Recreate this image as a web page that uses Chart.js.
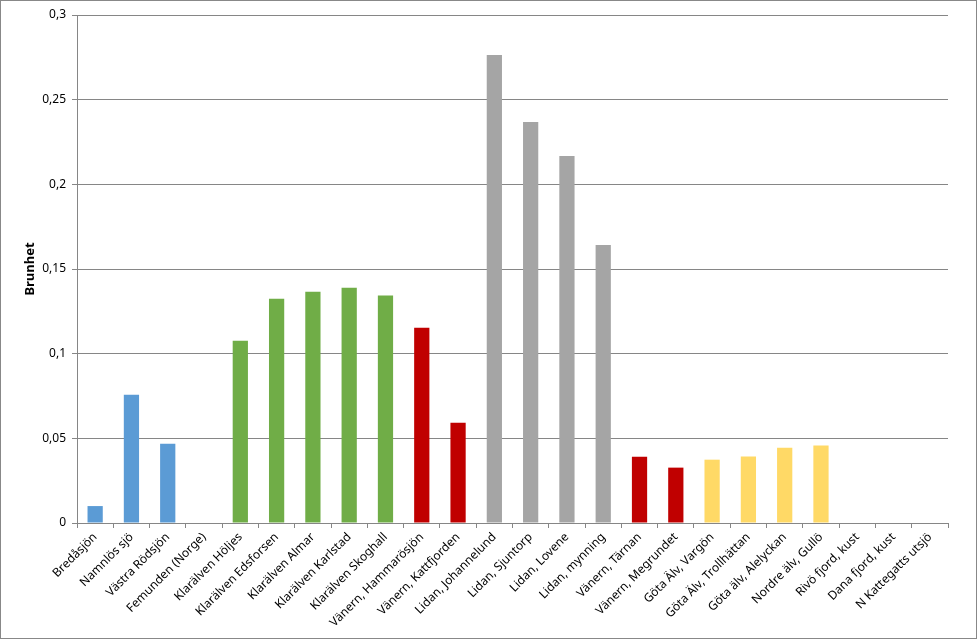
<!DOCTYPE html>
<html>
<head>
<meta charset="utf-8">
<script src="https://cdn.jsdelivr.net/npm/chart.js@4/dist/chart.umd.min.js"></script>
<style>
  body { margin: 0; background: #fff; }
  #wrap { width: 977px; height: 639px; box-sizing: border-box; border: 1px solid #888; }
  canvas { display: block; }
</style>
</head>
<body>
<div id="wrap"><canvas id="chart" width="975" height="637"></canvas></div>
<script>
const categories = [
  'Bredåsjön', 'Namnlös sjö', 'Västra Rödsjön', 'Femunden (Norge)',
  'Klarälven Höljes', 'Klarälven Edsforsen', 'Klarälven Almar', 'Klarälven Karlstad', 'Klarälven Skoghall',
  'Vänern, Hammarösjön', 'Vänern, Kattfjorden',
  'Lidan, Johannelund', 'Lidan, Sjuntorp', 'Lidan, Lovene', 'Lidan, mynning',
  'Vänern, Tärnan', 'Vänern, Megrundet',
  'Göta Älv, Vargön', 'Göta Älv, Trollhättan', 'Göta älv, Alelyckan', 'Nordre älv, Gullö',
  'Rivö fjord, kust', 'Dana fjord, kust', 'N Kattegatts utsjö'
];
const brunhet = [
  0.010, 0.0757, 0.0468, null,
  0.1077, 0.1325, 0.1366, 0.1390, 0.1343,
  0.1153, 0.0592,
  0.2764, 0.2368, 0.2168, 0.1642,
  0.0391, 0.0327,
  0.0374, 0.0392, 0.0445, 0.0457,
  null, null, null
];
const groupColors = {
  blue: '#5B9BD5', green: '#70AD47', red: '#C00000', gray: '#A5A5A5', yellow: '#FFD966'
};
const barGroups = [
  'blue', 'blue', 'blue', 'blue',
  'green', 'green', 'green', 'green', 'green',
  'red', 'red',
  'gray', 'gray', 'gray', 'gray',
  'red', 'red',
  'yellow', 'yellow', 'yellow', 'yellow',
  'yellow', 'yellow', 'yellow'
];
const yTicks = [0, 0.05, 0.1, 0.15, 0.2, 0.25, 0.3];

const ctx = document.getElementById('chart').getContext('2d');
new Chart(ctx, {
  type: 'bar',
  data: {
    labels: categories,
    datasets: [{
      label: 'Brunhet',
      data: brunhet,
      backgroundColor: barGroups.map(g => groupColors[g]),
      barPercentage: 0.42,
      categoryPercentage: 1.0
    }]
  },
  options: {
    responsive: false,
    animation: false,
    layout: { padding: { top: 14, right: 28, left: 0, bottom: 0 } },
    plugins: { legend: { display: false }, tooltip: { enabled: false } },
    scales: {
      x: {
        offset: true,
        grid: {
          offset: true,
          drawOnChartArea: false,
          color: '#868686',
          tickLength: 5
        },
        border: { color: '#868686', width: 1 },
        ticks: {
          autoSkip: false,
          maxRotation: 45,
          minRotation: 45,
          color: '#000',
          font: { family: 'Noto Sans', size: 12 },
          padding: 2
        },
        afterFit: s => { s.height = 115; }
      },
      y: {
        min: 0,
        max: 0.3,
        afterBuildTicks: s => { s.ticks = yTicks.map(v => ({ value: v })); },
        grid: { color: '#868686', tickLength: 5 },
        border: { color: '#868686', width: 1 },
        ticks: {
          color: '#000',
          padding: 6,
          font: { family: 'Noto Sans', size: 12 },
          callback: v => String(Math.round(v * 100) / 100).replace('.', ',')
        },
        title: {
          display: true,
          text: 'Brunhet',
          color: '#000',
          padding: { top: 21, bottom: 0 },
          font: { family: 'Noto Sans', size: 13, weight: 'bold' }
        },
        afterFit: s => { s.width = 76; }
      }
    }
  }
});
</script>
</body>
</html>
